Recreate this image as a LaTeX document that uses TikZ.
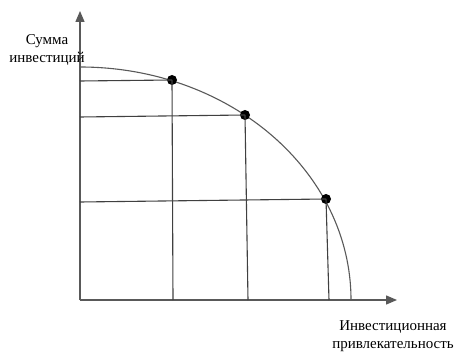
\documentclass[tikz,border=0pt]{standalone}
\usepackage{fontspec}
\setmainfont{Liberation Serif}
\usetikzlibrary{arrows.meta,positioning}

\begin{document}
\begin{tikzpicture}[x=1pt,y=-1pt,
  axis/.style={line width=1.3pt,black!65,-{Triangle[length=11pt,width=9pt]}},
  grid/.style={line width=1.1pt,black!75},
  dot/.style={circle,fill=black,inner sep=0pt,minimum size=10pt},
  lbl/.style={font=\fontsize{15}{18}\selectfont,align=center,inner sep=0pt}]
\useasboundingbox (0,0) rectangle (457,352);
% axes
\coordinate (o) at (80,300);
\coordinate (ytop) at (80,11);
\coordinate (xend) at (397,300);
\draw[axis] (o) -- (ytop);
\draw[axis] (o) -- (xend);
% curve (quarter ellipse)
\draw[line width=1.1pt,black!65] (80,67) arc[start angle=-90,end angle=0,x radius=271,y radius=233];
% points on the curve
\node[dot] (p1) at (172,80) {};
\node[dot] (p2) at (245,115) {};
\node[dot] (p3) at (326,199) {};
\coordinate (y1) at (80,81);
\coordinate (y2) at (80,117);
\coordinate (y3) at (80,202);
\coordinate (x1) at (173,300);
\coordinate (x2) at (248,300);
\coordinate (x3) at (329,300);
\draw[grid] (p1.center) -- (y1) (p1.center) -- (x1);
\draw[grid] (p2.center) -- (y2) (p2.center) -- (x2);
\draw[grid] (p3.center) -- (y3) (p3.center) -- (x3);
% labels
\node[lbl] (ylbl) at (47,50) {Сумма\\инвестиций};
\node[lbl] (xlbl) at (393,336) {Инвестиционная\\привлекательность};
\end{tikzpicture}
\end{document}
